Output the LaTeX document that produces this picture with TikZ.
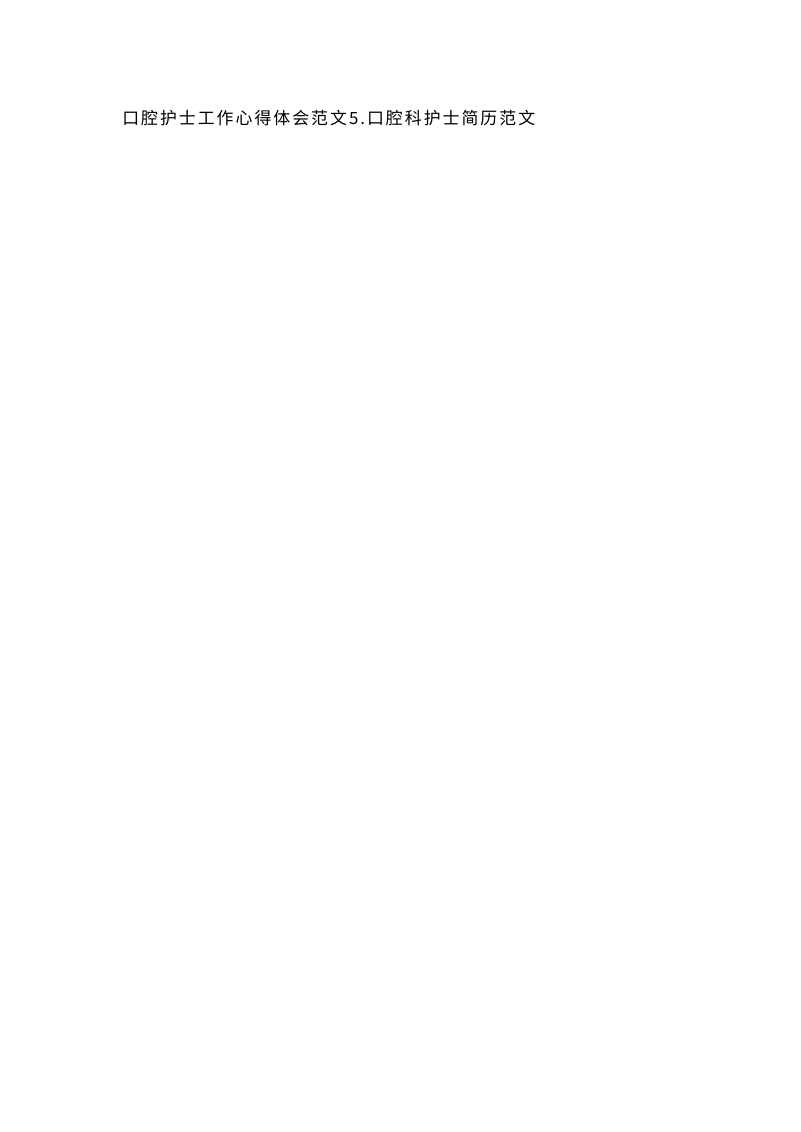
\documentclass[tikz,border=0pt]{standalone}
\usepackage{fontspec}
\newfontfamily\cjk[LetterSpace=12]{Noto Sans CJK SC}
\begin{document}
\begin{tikzpicture}
\useasboundingbox (0,0) rectangle (20,-28.3);
\node[anchor=west,inner sep=0,font=\cjk\fontsize{12pt}{14pt}\selectfont] (t) at (3.05,-2.95) {口腔护士工作心得体会范文5.口腔科护士简历范文};
\end{tikzpicture}
\end{document}
